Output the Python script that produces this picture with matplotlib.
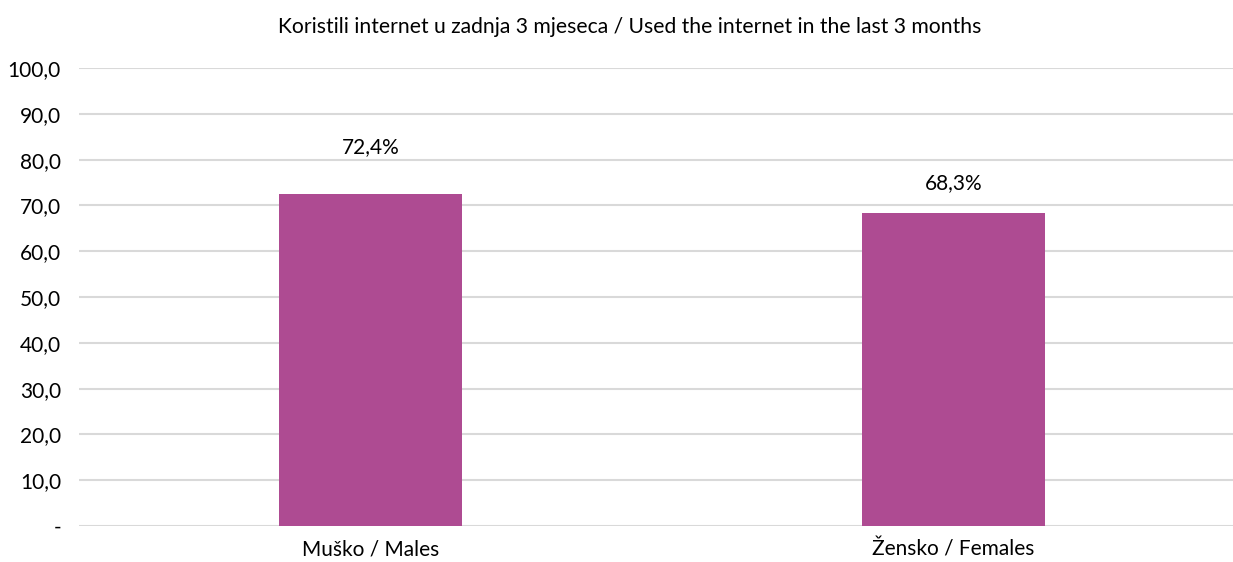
#!/usr/bin/env python3

import matplotlib.pyplot as plt
import numpy as np

categories = ['Muško / Males', 'Žensko / Females']
values = [72.4, 68.3]
value_labels = ['72,4%', '68,3%']
yticks = [0, 10, 20, 30, 40, 50, 60, 70, 80, 90, 100]
ytick_labels = ['-', '10,0', '20,0', '30,0', '40,0', '50,0', '60,0', '70,0', '80,0', '90,0', '100,0']
title = 'Koristili internet u zadnja 3 mjeseca / Used the internet in the last 3 months'

# label offsets above bar tops (pixels), as placed in the original
label_offsets = [47, 30]

plt.rcParams['font.family'] = ['Lato', 'DejaVu Sans']

fig = plt.figure(figsize=(12.33, 5.62), dpi=100)
ax = fig.add_axes([79/1233, 1 - 526/562, 1 - 79/1233, (526 - 68)/562])

x = np.arange(len(categories))
ax.bar(x, values, width=0.314, color='#AE4B92', zorder=3)

ax.set_xlim(-0.5, 1.48)
ax.set_ylim(0, 100)
ax.set_yticks(yticks)
ax.set_yticklabels(ytick_labels, fontsize=15)
ax.set_xticks(x)
ax.set_xticklabels(categories, fontsize=15)
ax.tick_params(length=0)
ax.tick_params(axis='x', pad=10)
ax.tick_params(axis='y', pad=13)
ax.grid(axis='y', color='#d9d9d9', linewidth=1.5, zorder=0)
for s in ax.spines.values():
    s.set_visible(False)

for xi, v, lab, off in zip(x, values, value_labels, label_offsets):
    ax.annotate(lab, (xi, v), xytext=(0, off * 0.72), textcoords='offset points',
                ha='center', va='center', fontsize=15)

fig.text(630/1233, 1 - 27/562, title, ha='center', va='center', fontsize=15.2)

fig.savefig('out.png', dpi=100)
